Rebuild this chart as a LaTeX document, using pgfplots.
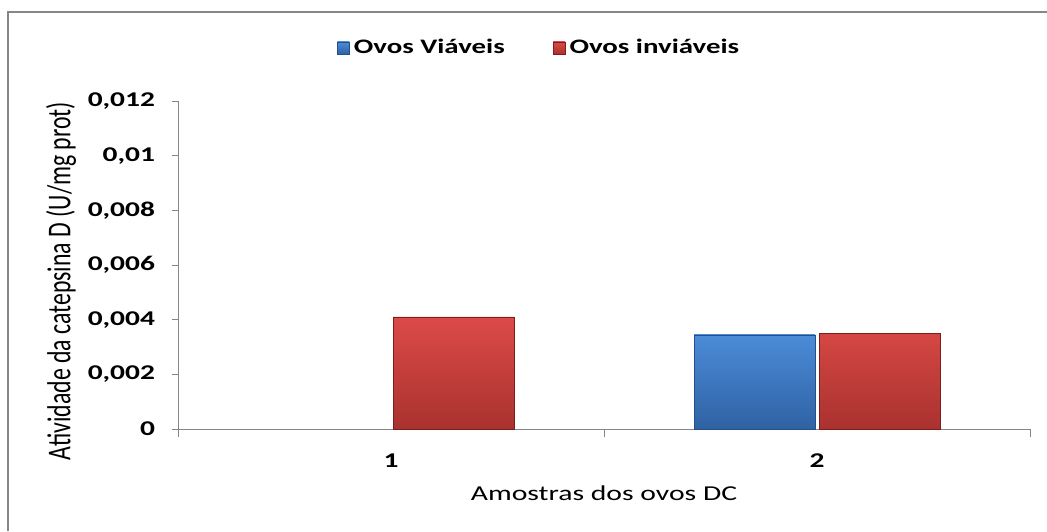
\documentclass[border=0pt]{standalone}
\usepackage{pgfplots}
\pgfplotsset{compat=1.18}
\usepackage{fontspec}
\setmainfont{Carlito}
\usepackage{graphicx}
\definecolor{axgray}{HTML}{868686}
\definecolor{bluetop}{HTML}{4C8BD8}
\definecolor{bluebot}{HTML}{2F62A3}
\definecolor{blueedge}{HTML}{24508A}
\definecolor{redtop}{HTML}{DC4A47}
\definecolor{redbot}{HTML}{A9322F}
\definecolor{rededge}{HTML}{7A1F1D}
\newcommand\wx[1]{\scalebox{1.4}[1]{#1}}
\begin{document}
\begin{tikzpicture}
\useasboundingbox (0,0) rectangle (523.5pt,265.5pt);
\fill[white] (0,0) rectangle (523.5pt,265.5pt);
\draw[axgray, line width=1pt] (4pt,0) -- (4pt,259.5pt) -- (523.5pt,259.5pt);
\begin{axis}[
  at={(89pt,51pt)}, anchor=south west,
  scale only axis,
  width=426pt, height=164pt,
  ybar, bar width=0.284,
  xmin=0.5, xmax=2.5,
  ymin=0, ymax=0.012,
  axis x line=bottom, axis y line=left,
  axis line style={axgray, -},
  xtick={1,2},
  minor xtick={0.5,1.5,2.5},
  major x tick style={draw=none},
  minor x tick style={axgray},
  minor tick length=4pt,
  ytick={0,0.002,0.004,0.006,0.008,0.01,0.012},
  major y tick style={axgray},
  major tick length=3pt,
  tick align=outside,
  scaled y ticks=false,
  /pgf/number format/assume math mode=true,
  yticklabel={\wx{\pgfmathprintnumber[fixed,use comma,precision=3,assume math mode=true]{\tick}}},
  xticklabel={\wx{\pgfmathprintnumber[assume math mode=true]{\tick}}},
  tick label style={font=\bfseries\fontsize{10.5}{12}\selectfont},
  yticklabel style={xshift=-5pt},
  xticklabel style={yshift=-6pt},
  xlabel={\wx{Amostras dos ovos DC}},
  ylabel={\scalebox{1}[1.4]{Atividade da catepsina D (U/mg prot)}},
  xlabel style={font=\fontsize{10.6}{13}\selectfont, yshift=-2pt},
  ylabel style={font=\fontsize{11.9}{14}\selectfont, yshift=-1pt, xshift=-8pt},
  legend style={draw=none, at={(0.425,1.1616)}, anchor=center,
    legend columns=2, font=\bfseries\fontsize{10.3}{12}\selectfont,
    /tikz/every even column/.append style={column sep=22pt}},
  legend cell align=left,
]
\addplot[top color=bluetop, bottom color=bluebot, draw=blueedge,
  legend image code/.code={\fill[top color=bluetop, bottom color=bluebot, draw=blueedge] (-2pt,-3pt) rectangle (4pt,3pt);}]
  coordinates {(2,0.00344)};
\addlegendentry{\wx{Ovos Viáveis}}
\addplot[top color=redtop, bottom color=redbot, draw=rededge,
  legend image code/.code={\fill[top color=redtop, bottom color=redbot, draw=rededge] (-2pt,-3pt) rectangle (4pt,3pt);}]
  coordinates {(1,0.0041) (2,0.0035)};
\addlegendentry{\wx{Ovos inviáveis}}
\end{axis}
\end{tikzpicture}
\end{document}
